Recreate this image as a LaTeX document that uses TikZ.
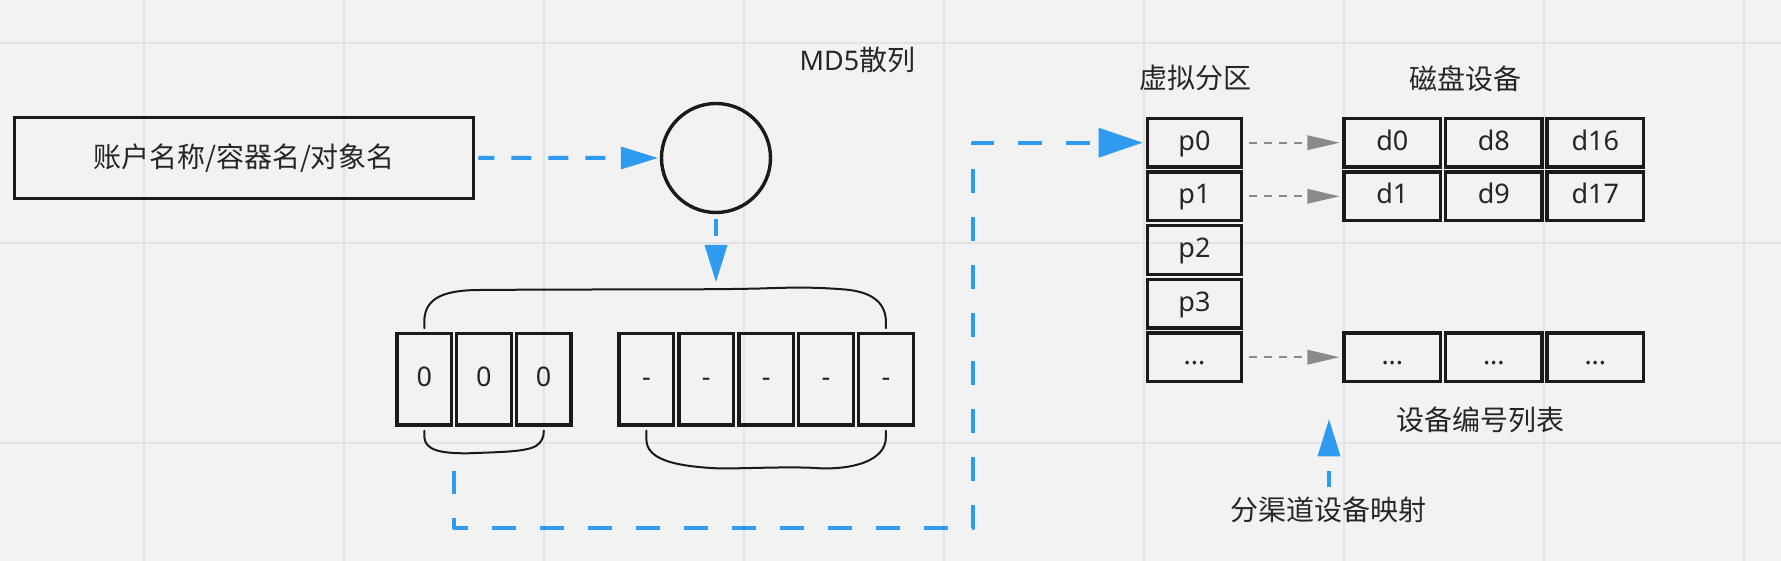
\documentclass[tikz,border=0pt]{standalone}
\usepackage{fontspec}
\setmainfont{Noto Sans}
\newfontfamily\cjk{Noto Sans CJK SC}
\usetikzlibrary{arrows.meta}
\definecolor{bg}{HTML}{F2F2F2}
\definecolor{gridc}{HTML}{E3E3E3}
\definecolor{ink}{HTML}{1A1A1A}
\definecolor{txt}{HTML}{262626}
\definecolor{blu}{HTML}{2F9BF0}
\definecolor{gry}{HTML}{8A8A8A}
\tikzset{
  lbl/.style={text=txt, font=\fontsize{27}{30}\selectfont, inner sep=0pt},
  cjklbl/.style={lbl, font=\fontsize{28}{30}\selectfont\cjk},
  cell/.style={draw=ink, line width=3.4pt, rectangle, inner sep=0pt, text=txt,
    font=\fontsize{27}{30}\selectfont, text height=17pt, text depth=2pt},
  bcell/.style={cell, minimum width=54.6pt, minimum height=91.6pt},
  pcell/.style={cell, minimum width=94.4pt, minimum height=48.6pt},
  dcell/.style={cell, minimum width=96.5pt, minimum height=48.6pt},
  bluedash/.style={draw=blu, line width=4pt, dash pattern=on 24pt off 24pt},
  bluetip/.style={-{Triangle[length=37pt,width=23pt,line width=0pt]}},
  bigtip/.style={-{Triangle[length=44pt,width=30pt,line width=0pt]}},
  grayarrow/.style={draw=gry, line width=2pt, dash pattern=on 8pt off 7pt,
    -{Triangle[length=32pt,width=15pt,line width=0pt]}},
  brace/.style={draw=ink, line width=2pt, line cap=round, line join=round},
}
\begin{document}
\begin{tikzpicture}[x=1pt, y=-1pt]
\fill[bg] (0,0) rectangle (1781,561);
\useasboundingbox (0,0) rectangle (1781,561);
\foreach \x in {143.5,343.5,543.5,743.5,943.5,1143.5,1343.5,1543.5,1743.5} \draw[gridc, line width=2pt] (\x,0) -- (\x,561);
\foreach \y in {42.7,242.7,442.7} \draw[gridc, line width=2pt] (0,\y) -- (1781,\y);

% input box and hash circle
\node[draw=ink, line width=3.4pt, minimum width=459.3pt, minimum height=80.9pt, cjklbl] (name) at (244,157.9) {账户名称/容器名/对象名};
\node[circle, draw=ink, line width=3.4pt, minimum size=109pt, inner sep=0pt] (hash) at (716,158) {};
\node[lbl] (md5) at (857.5,60) {MD5\fontsize{28}{30}\selectfont\cjk 散列};

% hash bits
\foreach \i/\x in {1/424.3,2/483.9,3/543.5} \node[bcell] (z\i) at (\x,379.2) {0};
\foreach \i/\x in {1/646.45,2/706.3,3/766.15,4/826.0,5/885.9} \node[bcell] (m\i) at (\x,379.2) {-};

% braces
\draw[brace] (424.3,328.3) -- (424.3,322) .. controls (424.3,300) and (440,290) .. (480,290)
  .. controls (600,289) and (700,290) .. (760,288.5)
  .. controls (800,287) and (820,287.5) .. (845,289.5)
  .. controls (875,292) and (885.9,305) .. (885.9,322) -- (885.9,328.3);
\draw[brace] (424.3,430.7) -- (424.3,437) .. controls (425,450) and (440,453.5) .. (468,453.3)
  .. controls (500,452) and (525,452) .. (536,446) .. controls (542,442) and (543.8,437) .. (543.8,430.7);
\draw[brace] (646.45,430.7) -- (646.45,440) .. controls (647,458) and (670,466) .. (716.8,468.3)
  .. controls (740,469) and (790,466) .. (820,468.3)
  .. controls (850,469.5) and (885.9,462) .. (885.9,437) -- (885.9,430.7);

% partitions
\node[pcell] (p0) at (1194.5,142.7) {p0};
\node[pcell] (p1) at (1194.5,196.3) {p1};
\node[pcell] (p2) at (1194.5,250) {p2};
\node[pcell] (p3) at (1194.5,303.6) {p3};
\node[pcell] (p4) at (1194.5,357.2) {...};
\node[cjklbl] (vp) at (1195.6,78.3) {虚拟分区};

% devices
\node[dcell] (d0) at (1392.35,142.7) {d0};
\node[dcell] (d8) at (1493.85,142.7) {d8};
\node[dcell] (d16) at (1595.35,142.7) {d16};
\node[dcell] (d1) at (1392.35,196.3) {d1};
\node[dcell] (d9) at (1493.85,196.3) {d9};
\node[dcell] (d17) at (1595.35,196.3) {d17};
\node[dcell] (e1) at (1392.35,357.2) {...};
\node[dcell] (e2) at (1493.85,357.2) {...};
\node[dcell] (e3) at (1595.35,357.2) {...};
\node[cjklbl] (disk) at (1465,78.3) {磁盘设备};
\node[cjklbl] (list) at (1480,420) {设备编号列表};
\node[cjklbl] (chan) at (1328,510) {分渠道设备映射};

% connectors
\draw[bluedash, dash pattern=on 20pt off 17pt, dash phase=4pt, bluetip, shorten <=3pt, shorten >=2pt] (name.east) -- (hash.west);
\coordinate (hashtip) at (716,282);
\draw[bluedash, dash pattern=on 17pt off 13pt, bluetip, shorten <=5pt] (hash.south) -- (hashtip);

\coordinate (s) at (454,470.7);
\coordinate (c1) at (454,528);
\coordinate (c2) at (973,528);
\draw[bluedash, dash phase=1pt, line join=round, bigtip, shorten >=3pt] (s) -- (c1) -- (c2) |- (p0.west);

\coordinate (u0) at (1329,487.3);
\coordinate (u1) at (1329,419.3);
\draw[bluedash, dash pattern=on 16pt off 15pt, bluetip] (u0) -- (u1);

\draw[grayarrow, shorten <=6pt, shorten >=3pt] (p0.east) -- (d0.west);
\draw[grayarrow, shorten <=6pt, shorten >=3pt] (p1.east) -- (d1.west);
\draw[grayarrow, shorten <=6pt, shorten >=3pt] (p4.east) -- (e1.west);
\end{tikzpicture}
\end{document}
